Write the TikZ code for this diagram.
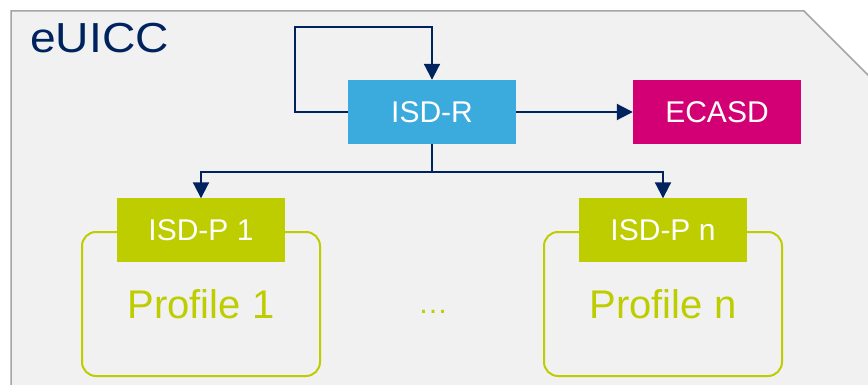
\documentclass[tikz,border=0pt]{standalone}
\usepackage{fontspec}
\setmainfont{Liberation Sans}
\usepackage{xcolor}
\usetikzlibrary{arrows.meta, positioning}
\definecolor{euNavy}{RGB}{0,35,95}
\definecolor{euBlue}{RGB}{59,170,220}
\definecolor{euMagenta}{RGB}{210,0,116}
\definecolor{euOlive}{RGB}{189,205,0}
\definecolor{euFrame}{RGB}{241,241,241}
\definecolor{euEdge}{RGB}{165,165,165}

\begin{document}
\begin{tikzpicture}[x=1pt, y=-1pt,
    blk/.style={fill=#1, text=white, minimum width=168pt, minimum height=64pt,
                inner sep=0pt, font=\fontsize{30}{36}\selectfont},
    prof/.style={draw=euOlive, line width=2pt, rounded corners=14pt,
                 minimum width=238pt, minimum height=144pt, inner sep=0pt,
                 text=euOlive, font=\fontsize{40}{48}\selectfont},
    arr/.style={-{Triangle[length=16pt,width=16pt]}, line width=2pt, draw=euNavy}]
\useasboundingbox (0,0) rectangle (868,385);
\clip (0,0) rectangle (868,385);

% card outline with the cut corner
\draw[fill=euFrame, draw=euEdge, line width=1.5pt]
   (11,400) -- (11,11) -- (804,11) -- (890,97) -- (890,400) -- cycle;
\node[anchor=base west, inner sep=0pt, text=euNavy,
      font=\fontsize{42}{50}\selectfont\addfontfeature{FakeStretch=1.1}]
      (card) at (30,53) {eUICC};

% ISSUER DOMAINS
\node[blk=euBlue] (isdr) at (432,112) {ISD-R};
\node[blk=euMagenta] (ecasd) at (717,112) {ECASD};

% PROFILES
\node[prof] (prof1) at (201,304) {Profile 1};
\node[prof] (profn) at (663,304) {Profile n};
\node[blk=euOlive, minimum height=63pt] (isdp1) at (201,230) {ISD-P 1};
\node[blk=euOlive, minimum height=63pt] (isdpn) at (663,230) {ISD-P n};
\node[text=euOlive, font=\fontsize{30}{36}\selectfont] (dots) at (433,312) {…};

% Links
\coordinate (loop) at (295,27);
\coordinate (split) at (432,172);
\draw[arr] (isdr.west) -| (loop) -| (isdr.north);
\draw[arr] (isdr) -- (ecasd);
\draw[line width=2pt, draw=euNavy] (isdr.south) -- (split);
\draw[arr] (split) -| (isdp1.north);
\draw[arr] (split) -| (isdpn.north);

\end{tikzpicture}
\end{document}
